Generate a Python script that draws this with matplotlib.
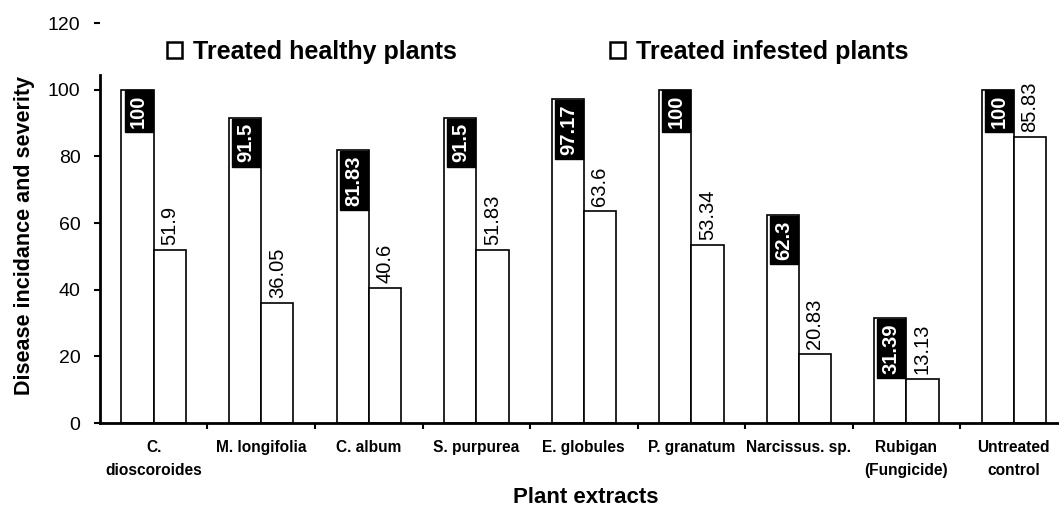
import matplotlib
matplotlib.use('Agg')
import matplotlib.pyplot as plt
from matplotlib.patches import Patch
import numpy as np

plt.rcParams['font.family'] = ['Liberation Sans', 'DejaVu Sans']

categories = ['C.\ndioscoroides', 'M. longifolia', 'C. album', 'S. purpurea',
              'E. globules', 'P. granatum', 'Narcissus. sp.',
              'Rubigan\n(Fungicide)', 'Untreated\ncontrol']
healthy = [100, 91.5, 81.83, 91.5, 97.17, 100, 62.3, 31.39, 100]
infested = [51.9, 36.05, 40.6, 51.83, 63.6, 53.34, 20.83, 13.13, 85.83]
healthy_labels = ['100', '91.5', '81.83', '91.5', '97.17', '100', '62.3', '31.39', '100']
infested_labels = ['51.9', '36.05', '40.6', '51.83', '63.6', '53.34', '20.83', '13.13', '85.83']

fig = plt.figure(figsize=(10.59, 5.08), dpi=100)
ax = fig.add_axes([0.0944, 0.1673, 0.9056, 0.7874])

x = np.arange(len(categories))
w = 0.3
b1 = ax.bar(x - w/2, healthy, w, color='white', edgecolor='black', linewidth=1.2)
b2 = ax.bar(x + w/2, infested, w, color='white', edgecolor='black', linewidth=1.2)

# labels: white on black box inside top of first bar, plain text above second
for xi, h, lab in zip(x, healthy, healthy_labels):
    ax.text(xi - w/2 + 0.01, h - 1.5, lab, rotation=90, ha='center', va='top',
            fontsize=14.5, fontweight='bold', color='white',
            bbox=dict(boxstyle='square,pad=0.22', fc='black', ec='black'))
for xi, h, lab in zip(x, infested, infested_labels):
    ax.text(xi + w/2, h + 1.5, lab, rotation=90, ha='center', va='bottom',
            fontsize=14.5, color='black')

ax.set_xlim(-0.5, 8.42)
ax.set_ylim(0, 120)
ax.set_yticks([0, 20, 40, 60, 80, 100, 120])
ax.tick_params(axis='y', labelsize=14, direction='out', length=4, width=1.5, pad=10)

ax.set_xticks(np.arange(0.5, 8, 1))
ax.set_xticklabels([])
ax.tick_params(axis='x', which='major', direction='out', length=4, width=1.5)
ax.set_xticks(x, minor=True)
ax.set_xticklabels(categories, minor=True, fontsize=11.2, fontweight='bold',
                   linespacing=1.7)
ax.tick_params(axis='x', which='minor', length=0, pad=12)

ax.spines['top'].set_visible(False)
ax.spines['right'].set_visible(False)
ax.spines['left'].set_linewidth(2)
ax.spines['bottom'].set_linewidth(2)
ax.spines['left'].set_bounds(0, 104.5)

ax.set_ylabel('Disease incidance and severity', fontsize=15.5, fontweight='bold')
ax.yaxis.set_label_coords(-0.068, 0.47)
ax.set_xlabel('Plant extracts', fontsize=16, fontweight='bold')
ax.xaxis.set_label_coords(0.507, -0.16)

handles = [Patch(facecolor='white', edgecolor='black', linewidth=1.8),
           Patch(facecolor='white', edgecolor='black', linewidth=1.8)]
ax.legend(handles, ['Treated healthy plants', 'Treated infested plants'],
          loc='upper left', bbox_to_anchor=(0.07, 0.958), ncol=2, frameon=False,
          prop={'size': 18, 'weight': 'bold'}, handlelength=0.6, handleheight=0.6,
          handletextpad=0.45, columnspacing=6.1, borderpad=0, borderaxespad=0)

fig.savefig('out.png', dpi=100)
